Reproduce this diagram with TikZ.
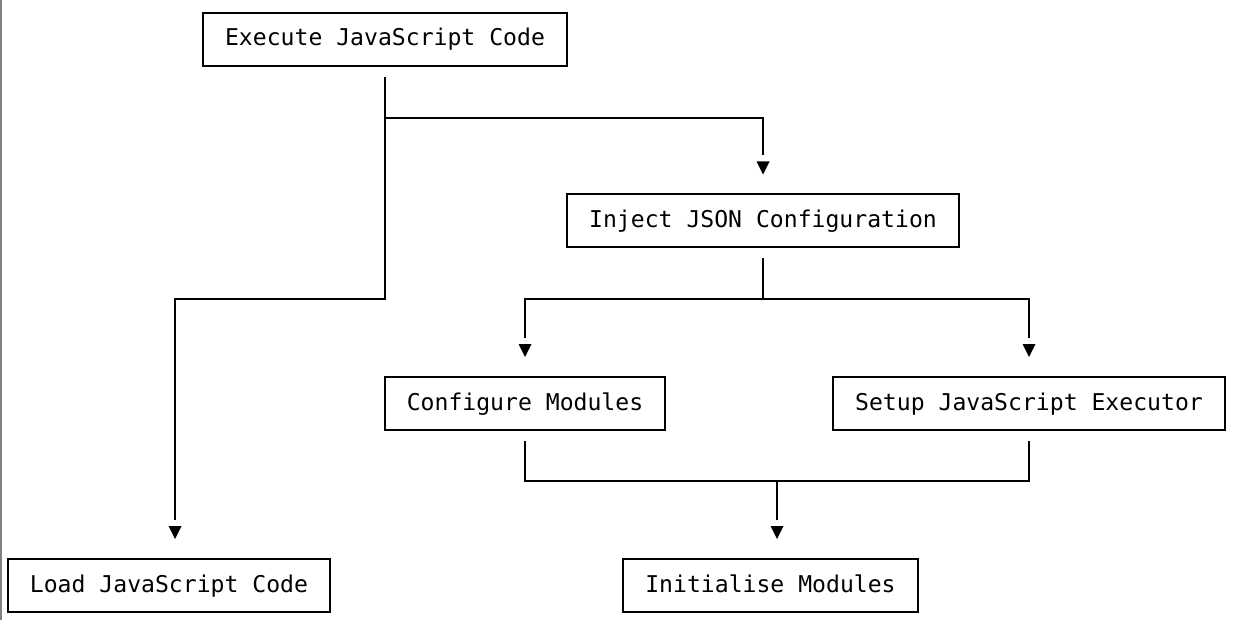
\documentclass[tikz,border=0pt]{standalone}
\usepackage{fontspec}
\setmonofont{DejaVu Sans Mono}

\tikzset{
  box/.style={draw, line width=2pt, inner xsep=22pt, minimum height=53pt,
    text height=17.5pt, text depth=4.5pt,
    font=\ttfamily\fontsize{23.1}{27}\selectfont},
  flow/.style={line width=2pt, shorten <=10pt, shorten >=38pt},
  link/.style={line width=2pt, shorten <=10pt}
}
\newcommand{\downtip}[1]{\fill ([yshift=19pt]#1) -- ++(-6.5,-13) -- ++(13,0) -- cycle;}

\begin{document}
\begin{tikzpicture}[x=1pt,y=-1pt]
  \useasboundingbox (0,0) rectangle (1236,620);
  \draw[gray,line width=1.5pt] (0.75,0) -- (0.75,620);

  \node[box] (exec)   at (385,39.5)   {Execute JavaScript Code};
  \node[box] (inject) at (763,221)    {Inject JSON Configuration};
  \node[box] (config) at (525,403.5)  {Configure Modules};
  \node[box] (setup)  at (1029,403.5) {Setup JavaScript Executor};
  \node[box] (load)   at (169,585.5)  {Load JavaScript Code};
  \node[box] (init)   at (770.5,585.5) {Initialise Modules};

  \coordinate (loadin) at ([xshift=6pt]load.north);
  \coordinate (initin) at ([xshift=6.5pt]init.north);

  \draw[flow] (exec.south) -- (exec.south |- 0,118) -| (inject.north);
  \draw[flow] (exec.south) |- (loadin |- 0,299) -- (loadin);
  \draw[flow] (inject.south) |- (config.north |- 0,299) -- (config.north);
  \draw[flow] (inject.south) |- (setup.north |- 0,299) -- (setup.north);
  \draw[link] (config.south) |- (initin |- 0,481);
  \draw[flow] (setup.south) |- (initin |- 0,481) -- (initin);

  \downtip{inject.north}
  \downtip{loadin}
  \downtip{config.north}
  \downtip{setup.north}
  \downtip{initin}
\end{tikzpicture}
\end{document}
